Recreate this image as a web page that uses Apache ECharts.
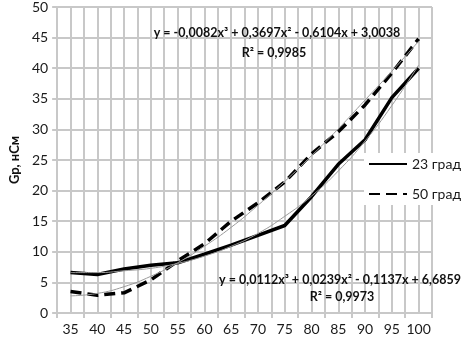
<!DOCTYPE html>
<html>
<head>
<meta charset="utf-8">
<script src="https://cdn.jsdelivr.net/npm/echarts@6/dist/echarts.min.js"></script>
<style>
  html, body { margin: 0; padding: 0; background: #fff; }
  #chart { width: 469px; height: 337px; }
</style>
</head>
<body>
<div id="chart"></div>
<script>
// температура, значения с графика
var categories = ['35', '40', '45', '50', '55', '60', '65', '70', '75', '80', '85', '90', '95', '100'];
var gp23 = [6.6, 6.3, 7.2, 7.8, 8.2, 9.6, 11.1, 12.7, 14.3, 19.0, 24.3, 28.3, 35.2, 40.0];
var gp50 = [3.5, 2.9, 3.3, 5.4, 8.5, 11.3, 15.0, 18.0, 21.4, 26.0, 29.6, 34.0, 39.2, 44.8];
// тонкие линии тренда
var trend23 = [6.6, 6.6, 6.9, 7.3, 8.1, 9.3, 10.9, 13.0, 15.8, 19.1, 23.2, 28.1, 33.9, 40.5];
var trend50 = [2.8, 3.2, 4.3, 6.0, 8.2, 10.9, 14.0, 17.6, 21.5, 25.7, 30.1, 34.8, 39.5, 44.4];
var yTicks = [0, 50, 5];

var gridColor = '#c8c8c8';
var font = 'Lato';

var dom = document.getElementById('chart');
var myChart = echarts.init(dom);

function eqText(txt, x, y) {
    return {
        type: 'text', x: x, y: y, z: 10,
        style: {
            text: txt, fill: '#111', font: 'bold 12.5px Lato',
            textAlign: 'center', textVerticalAlign: 'middle'
        }
    };
}

myChart.setOption({
    animation: false,
    textStyle: { fontFamily: font },
    grid: { left: 41, right: 37, top: 6, bottom: 24 },
    legend: {
        data: ['23 град', '50 град'],
        orient: 'vertical',
        left: 364,
        top: 153,
        itemWidth: 38,
        itemHeight: 12,
        itemGap: 16,
        backgroundColor: '#fff',
        padding: [4, 4, 4, 4],
        itemStyle: { opacity: 0 },
        textStyle: { color: '#1a1a1a', fontSize: 14, fontFamily: font }
    },
    xAxis: [
        {
            type: 'category',
            data: categories,
            boundaryGap: true,
            axisLine: { lineStyle: { color: gridColor, width: 2 } },
            axisTick: { show: true, length: 5, lineStyle: { color: gridColor, width: 2 } },
            axisLabel: { color: '#1a1a1a', fontSize: 14, margin: 9, interval: 0 },
            splitLine: { show: false }
        },
        {
            // только вспомогательная сетка через каждые 2.5
            type: 'value',
            position: 'bottom',
            min: 32.5,
            max: 102.5,
            interval: 2.5,
            axisLine: { show: false },
            axisTick: { show: false },
            axisLabel: { show: false },
            splitLine: { show: true, lineStyle: { color: gridColor, width: 2 } }
        }
    ],
    yAxis: {
        type: 'value',
        min: yTicks[0],
        max: yTicks[1],
        interval: yTicks[2],
        name: 'Gp, нСм',
        nameLocation: 'middle',
        nameGap: 32,
        nameRotate: 90,
        nameTextStyle: { color: '#111', fontSize: 13, fontWeight: 'bold', fontFamily: font },
        axisLine: { show: true, lineStyle: { color: gridColor, width: 2 } },
        axisTick: { show: true, length: 5, lineStyle: { color: gridColor, width: 2 } },
        axisLabel: { color: '#1a1a1a', fontSize: 14, margin: 9 },
        splitLine: { lineStyle: { color: gridColor, width: 2 } }
    },
    series: [
        {
            name: '23 град',
            type: 'line',
            data: gp23,
            symbol: 'none',
            z: 3,
            lineStyle: { color: '#000', width: 3.5 },
            itemStyle: { color: '#000' }
        },
        {
            name: '50 град',
            type: 'line',
            data: gp50,
            symbol: 'none',
            z: 3,
            lineStyle: { color: '#000', width: 3.5, type: [11, 6] },
            itemStyle: { color: '#000' }
        },
        {
            name: 'тренд 23',
            type: 'line',
            data: trend23,
            symbol: 'none',
            smooth: true,
            z: 4,
            lineStyle: { color: '#9a9a9a', width: 1 }
        },
        {
            name: 'тренд 50',
            type: 'line',
            data: trend50,
            symbol: 'none',
            smooth: true,
            z: 4,
            lineStyle: { color: '#9a9a9a', width: 1 }
        }
    ],
    graphic: [
        eqText('y = -0,0082x³ + 0,3697x² - 0,6104x + 3,0038', 277, 33),
        eqText('R² = 0,9985', 274, 53),
        eqText('y = 0,0112x³ + 0,0239x² - 0,1137x + 6,6859', 340, 280),
        eqText('R² = 0,9973', 342, 297)
    ]
});

window.addEventListener('resize', function () {
    myChart.resize();
});
</script>
</body>
</html>
